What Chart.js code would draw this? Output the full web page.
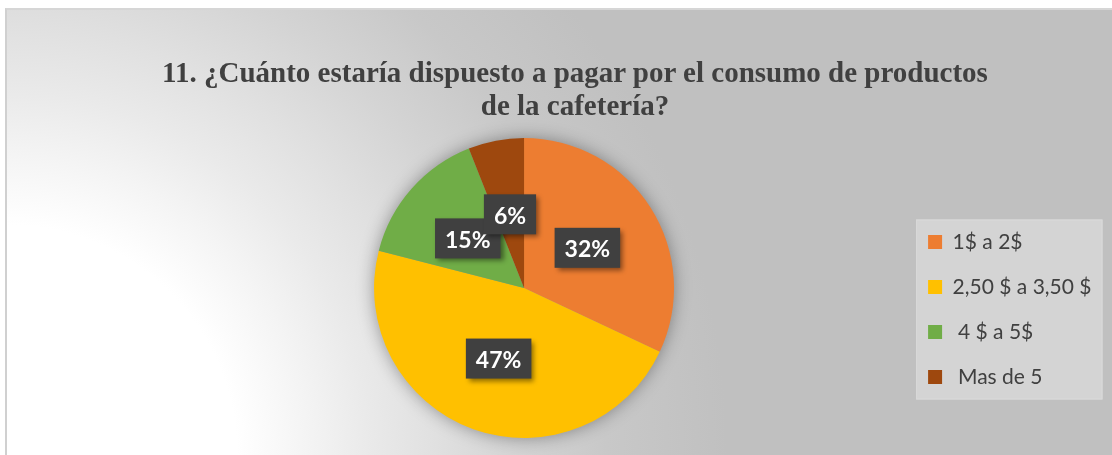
<!DOCTYPE html>
<html lang="es">
<head>
<meta charset="utf-8">
<title>Pago por consumo en la cafetería</title>
<script src="https://cdn.jsdelivr.net/npm/chart.js@4.4.1/dist/chart.umd.min.js"></script>
<style>
  html, body { margin: 0; padding: 0; background: #fff; }
  body { width: 1112px; height: 455px; overflow: hidden; position: relative; }
  #frame {
    position: absolute; left: 5px; top: 8px;
    width: 1105px; height: 445px;
    border-left: 2px solid #d0d0d0;
    border-top: 2px solid #d6d6d6;
    background: radial-gradient(circle at 0 100%, #ffffff 230px, #f4f4f4 300px, #eaeaea 360px, #e0e0e0 430px, #d4d4d4 510px, #c8c8c8 600px, #c0c0c0 720px);
  }
  #title {
    position: absolute; left: 0; top: 56px; width: 1150px;
    text-align: center;
    font: bold 29px/33px "Liberation Serif", "Times New Roman", serif;
    color: #404040;
  }
</style>
</head>
<body>
<div id="frame">
  <canvas id="pie"></canvas>
</div>
<div id="title">11. ¿Cuánto estaría dispuesto a pagar por el consumo de productos<br>de la cafetería?</div>

<script>
const labels = ['1$ a 2$', '2,50 $ a 3,50 $', ' 4 $ a 5$', ' Mas de 5'];
const values = [32, 47, 15, 6];
const colors = ['#ED7D31', '#FFC000', '#70AD47', '#9E480E'];

// soft glow under the whole pie
const pieShadow = {
    id: 'pieShadow',
    beforeDatasetsDraw(chart) {
        const arc = chart.getDatasetMeta(0).data[0];
        if (!arc) return;
        const ctx = chart.ctx;
        ctx.save();
        ctx.shadowColor = 'rgba(0,0,0,0.4)';
        ctx.shadowBlur = 18;
        ctx.fillStyle = '#999';
        ctx.beginPath();
        ctx.arc(arc.x, arc.y, arc.outerRadius - 1, 0, Math.PI * 2);
        ctx.fill();
        ctx.restore();
    }
};

// light panel behind the legend
const legendBg = {
    id: 'legendBg',
    beforeDraw(chart) {
        const hb = chart.legend && chart.legend.legendHitBoxes;
        if (!hb || !hb.length) return;
        const left = Math.min(...hb.map(h => h.left)) - 12;
        const right = Math.max(...hb.map(h => h.left + h.width)) + 11;
        const top = hb[0].top - 12;
        const last = hb[hb.length - 1];
        const bottom = last.top + last.height + 12;
        const ctx = chart.ctx;
        ctx.save();
        ctx.fillStyle = '#d4d4d4';
        ctx.fillRect(left, top, right - left, bottom - top);
        ctx.strokeStyle = '#dadada';
        ctx.lineWidth = 1;
        ctx.strokeRect(left + 0.5, top + 0.5, right - left - 1, bottom - top - 1);
        ctx.restore();
    }
};

// dark percentage tags in the middle of each slice
const valueLabels = {
    id: 'valueLabels',
    afterDatasetsDraw(chart) {
        const ctx = chart.ctx;
        const meta = chart.getDatasetMeta(0);
        ctx.save();
        ctx.font = 'bold 23px Lato';
        ctx.textAlign = 'center';
        ctx.textBaseline = 'middle';
        meta.data.forEach((arc, i) => {
            const { x, y } = arc.tooltipPosition();
            const text = values[i] + '%';
            const w = ctx.measureText(text).width + 20;
            const h = 40;
            ctx.shadowColor = 'rgba(0,0,0,0.45)';
            ctx.shadowBlur = 5;
            ctx.shadowOffsetX = 3;
            ctx.shadowOffsetY = 3;
            ctx.fillStyle = '#404040';
            ctx.fillRect(x - w / 2, y - h / 2, w, h);
            ctx.shadowColor = 'transparent';
            ctx.fillStyle = '#ffffff';
            ctx.fillText(text, x, y + 2);
        });
        ctx.restore();
    }
};

new Chart(document.getElementById('pie'), {
    type: 'pie',
    data: {
        labels: labels,
        datasets: [{
            data: values,
            backgroundColor: colors,
            borderWidth: 0
        }]
    },
    options: {
        responsive: true,
        maintainAspectRatio: false,
        animation: false,
        layout: { padding: { left: 137, right: 10.5, top: 128, bottom: 17 } },
        plugins: {
            tooltip: { enabled: false },
            legend: {
                position: 'right',
                title: { display: true, text: '', padding: { top: 29, bottom: 0 }, font: { size: 14, lineHeight: 1 } },
                labels: {
                    font: { family: 'Lato', size: 21 },
                    color: '#404040',
                    boxWidth: 14,
                    boxHeight: 14,
                    padding: 24
                }
            }
        }
    },
    plugins: [pieShadow, legendBg, valueLabels]
});
</script>
</body>
</html>
